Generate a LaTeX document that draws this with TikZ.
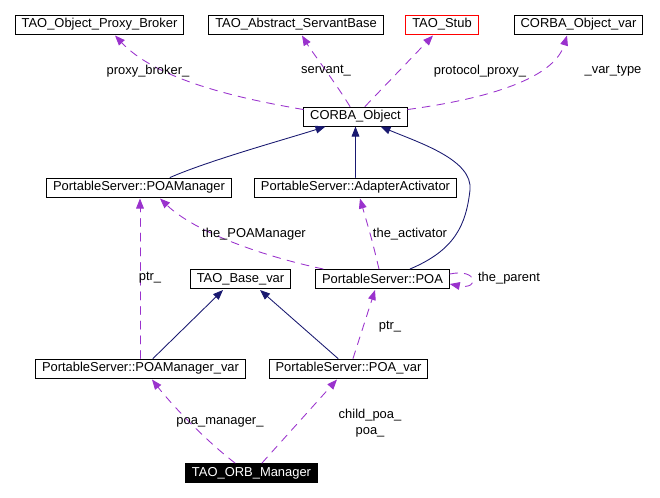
\documentclass[tikz,border=0pt]{standalone}
\usepackage{fontspec}
\setmainfont{Liberation Sans}
\usepackage{xcolor}
\usetikzlibrary{arrows.meta, calc}
\definecolor{usecol}{HTML}{9A32CD}
\definecolor{inhcol}{HTML}{191970}

\begin{document}
\begin{tikzpicture}[x=0.75pt, y=-0.75pt, line cap=round,
	cls/.style={draw=black, fill=white, line width=0.75pt, inner xsep=4.8pt, inner ysep=0pt, minimum height=14.25pt, font=\fontsize{9.7}{11}\selectfont},
	usedby/.style={usecol, line width=0.65pt, dash pattern=on 6pt off 5pt, -{Triangle[length=7.5pt, width=5.8pt]}},
	inherit/.style={inhcol, line width=0.65pt, -{Triangle[length=7.5pt, width=5.8pt]}},
	lbl/.style={inner sep=0pt, font=\fontsize{9.7}{12}\selectfont, align=center}]

	\useasboundingbox (0,0) rectangle (660,497);

	% classes
	\node[cls] (broker) at (99.5,24.5) {TAO\_Object\_Proxy\_Broker};
	\node[cls] (servant) at (296,24.5) {TAO\_Abstract\_ServantBase};
	\node[cls, draw=red] (stub) at (442,24.5) {TAO\_Stub};
	\node[cls] (objvar) at (578.5,24.5) {CORBA\_Object\_var};
	\node[cls] (corba) at (355.5,116.5) {CORBA\_Object};
	\node[cls] (poamgr) at (139,187.5) {PortableServer::POAManager};
	\node[cls] (adapter) at (355.5,187.5) {PortableServer::AdapterActivator};
	\node[cls] (basevar) at (240.5,279) {TAO\_Base\_var};
	\node[cls] (poa) at (382.5,279) {PortableServer::POA};
	\node[cls] (poamgrvar) at (140.5,368.5) {PortableServer::POAManager\_var};
	\node[cls] (poavar) at (348.5,368.5) {PortableServer::POA\_var};
	\node[cls, fill=black, text=white] (orbmgr) at (251.5,473) {TAO\_ORB\_Manager};

	% inheritance
	\draw[inherit] ($(poamgr.north)+(31,0)$) .. controls (210,160) and (290,138) .. ($(corba.south)+(-30,0)$);
	\draw[inherit] (adapter) -- (corba);
	\draw[inherit] ($(poa.north)+(27.5,0)$) .. controls (455,250) and (466,225) .. (470,190) .. controls (473,160) and (420,143) .. ($(corba.south)+(25,0)$);
	\draw[inherit] ($(poamgrvar.north)+(12.5,0)$) -- ($(basevar.south)+(-17.5,1)$);
	\draw[inherit] ($(poavar.north)+(-10.5,0)$) -- ($(basevar.south)+(19.5,1)$);

	% usage
	\draw[usedby] ($(corba.north west)+(0,3)$) .. controls (230,97) and (155,78) .. ($(broker.south)+(15.5,1)$);
	\draw[usedby] ($(corba.north)+(-5.5,0)$) .. controls (335,82) and (312,52) .. ($(servant.south)+(6,1)$);
	\draw[usedby] ($(corba.north)+(9.5,0)$) -- ($(stub.south)+(-9,1)$);
	\draw[usedby] ($(corba.east)+(0,-7)$) .. controls (500,97) and (555,75) .. ($(objvar.south)+(-11.5,1)$);
	\draw[usedby] ($(poa.north west)+(8,0)$) .. controls (262,256) and (195,232) .. ($(poamgr.south)+(21,1)$);
	\draw[usedby] ($(poamgrvar.north)+(-0.5,0)$) -- ($(poamgr.south)+(1,1)$);
	\draw[usedby] ($(poa.north)+(-3.5,0)$) .. controls (372,240) .. ($(adapter.south)+(4.5,1)$);
	\draw[usedby] ($(poa.east)+(0,-5)$) .. controls (478,268) and (480,290) .. ($(poa.east)+(0,5)$);
	\draw[usedby] ($(poavar.north)+(4.5,0)$) -- ($(poa.south)+(-7.5,1)$);
	\draw[usedby] ($(orbmgr.north)+(-16.5,0)$) .. controls (205,440) and (172,405) .. ($(poamgrvar.south)+(11.5,1)$);
	\draw[usedby] ($(orbmgr.north)+(10.5,0)$) -- ($(poavar.south)+(-11.5,1)$);

	% labels
	\node[lbl] (l-broker) at (148,71) {proxy\_broker\_};
	\node[lbl] (l-servant) at (326,71) {servant\_};
	\node[lbl] (l-stub) at (480,71) {protocol\_proxy\_};
	\node[lbl] (l-objvar) at (613,71) {\_var\_type};
	\node[lbl] (l-poamgr) at (254,234) {the\_POAManager};
	\node[lbl] (l-adapter) at (410,234) {the\_activator};
	\node[lbl] (l-ptr) at (150,278) {ptr\_};
	\node[lbl] (l-parent) at (509,278) {the\_parent};
	\node[lbl] (l-poaptr) at (390,327) {ptr\_};
	\node[lbl] (l-mgrvar) at (220,422) {poa\_manager\_};
	\node[lbl] (l-poavar) at (370,423) {child\_poa\_\\poa\_};

\end{tikzpicture}
\end{document}
